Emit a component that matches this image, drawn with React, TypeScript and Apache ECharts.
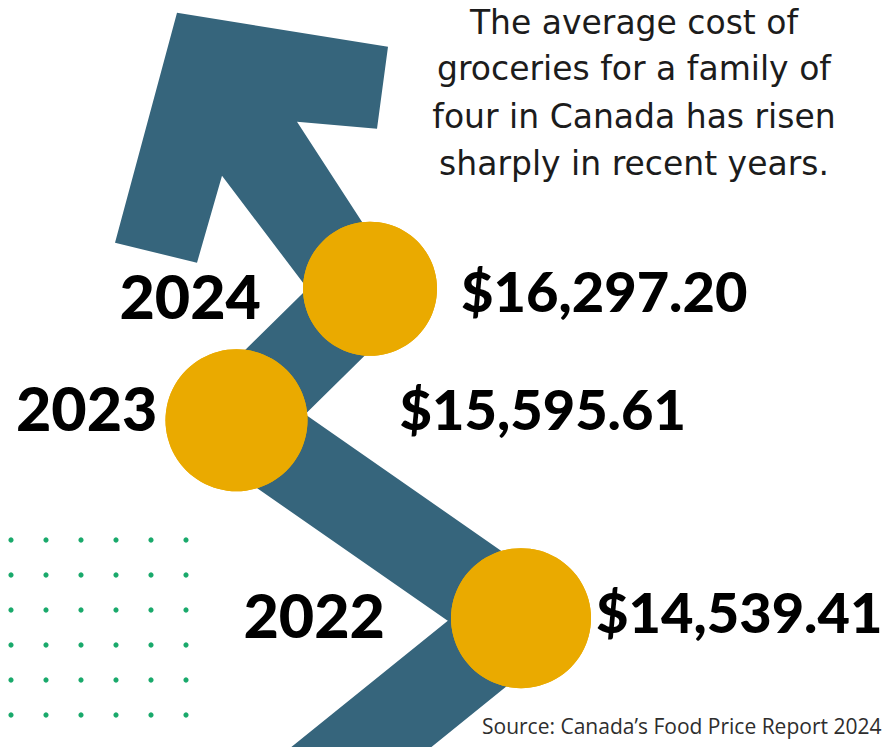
import React, { useEffect, useRef } from "react";
import * as echarts from "echarts";

// ---- data ----
const years = ["2022", "2023", "2024"];
const costs = [14539.41, 15595.61, 16297.2];
const headline = [
  "The average cost of",
  "groceries for a family of",
  "four in Canada has risen",
  "sharply in recent years.",
];
const sourceText = "Source: Canada\u2019s Food Price Report 2024";

// ---- layout (positions / sizes, not data) ----
const X_POS = [521, 236.5, 370];
const SIZES = [140, 142, 134];
const VALUE_DIST = [5, 92, 24];
const VALUE_DY = [-7, -12, 2];
const YEAR_DIST = [66, 8, 42];
const YEAR_DY = [-4, -13, 7];
const Y_MIN = 13852;
const Y_MAX = 17838;
// arrow head outline relative to the 2024 point
const HEAD: number[][] = [
  [-193, -276],
  [18, -242],
  [7, -160],
  [-73, -167],
  [14, -33],
  [-45, 23],
  [-148, -113],
  [-173, -26],
  [-255, -46],
];
const TAIL_DIR = [-0.778, 0.628];

const BLUE = "#36657C";
const GOLD = "#EAAA00";
const GREEN = "#19A96B";
const NUM_FONT = "Lato";

function fmtMoney(v: number): string {
  const [i, d] = v.toFixed(2).split(".");
  return "$" + i.replace(/\B(?=(\d{3})+(?!\d))/g, ",") + "." + d;
}

export default function App() {
  const ref = useRef<HTMLDivElement>(null);
  useEffect(() => {
    document.body.style.margin = "0";
    const chart = echarts.init(ref.current!, null, { renderer: "svg" });
    const numLabel = {
      color: "#000000",
      fontFamily: NUM_FONT,
      fontWeight: 900,
    };
    chart.setOption({
      animation: false,
      backgroundColor: "#ffffff",
      grid: { left: 0, right: 0, top: 0, bottom: 0, containLabel: false },
      xAxis: { type: "value", min: 0, max: 884, show: false },
      yAxis: { type: "value", min: Y_MIN, max: Y_MAX, show: false },
      series: [
        {
          type: "scatter",
          z: 5,
          symbol: "circle",
          itemStyle: { color: GOLD, opacity: 1 },
          emphasis: { disabled: true },
          data: costs.map((c, i) => ({
            value: [X_POS[i], c],
            symbolSize: SIZES[i],
            label: {
              show: true,
              position: "right",
              distance: VALUE_DIST[i],
              offset: [0, VALUE_DY[i]],
              formatter: fmtMoney(c),
              fontSize: 56,
              ...numLabel,
            },
          })),
        },
        {
          type: "scatter",
          z: 4,
          symbol: "circle",
          itemStyle: { color: GOLD, opacity: 1 },
          emphasis: { disabled: true },
          data: costs.map((c, i) => ({
            value: [X_POS[i], c],
            symbolSize: SIZES[i],
            label: {
              show: true,
              position: "left",
              distance: YEAR_DIST[i],
              offset: [0, YEAR_DY[i]],
              formatter: years[i],
              fontSize: 61,
              ...numLabel,
            },
          })),
        },
      ],
    });

    const px = costs.map(
      (c, i) => chart.convertToPixel({ gridIndex: 0 }, [X_POS[i], c]) as number[]
    );
    const p22 = px[0];
    const p24 = px[2];
    const tail = [p22[0] + TAIL_DIR[0] * 320, p22[1] + TAIL_DIR[1] * 320];

    const elements: any[] = [];
    for (let r = 0; r < 7; r++) {
      for (let c = 0; c < 6; c++) {
        elements.push({
          type: "circle",
          z: 1,
          silent: true,
          shape: { cx: 11 + c * 35, cy: 540 + r * 35, r: 2.6 },
          style: { fill: GREEN },
        });
      }
    }
    elements.push({
      type: "polyline",
      z: 1,
      silent: true,
      shape: { points: [tail, px[0], px[1], px[2]] },
      style: { stroke: BLUE, lineWidth: 88, lineJoin: "round", lineCap: "butt", fill: null },
    });
    elements.push({
      type: "polygon",
      z: 1,
      silent: true,
      shape: { points: HEAD.map(([dx, dy]) => [p24[0] + dx, p24[1] + dy]) },
      style: { fill: BLUE },
    });
    const lineY = [22, 68.5, 116, 163.5];
    headline.forEach((t, i) => {
      elements.push({
        type: "text",
        z: 10,
        x: 634,
        y: lineY[i],
        style: {
          text: t,
          fill: "#1c1c1c",
          font: "400 33px 'DejaVu Sans'",
          textAlign: "center",
          textVerticalAlign: "middle",
        },
      });
    });
    elements.push({
      type: "text",
      z: 10,
      x: 482,
      y: 725.5,
      style: {
        text: sourceText,
        fill: "#2e2e2e",
        font: "400 21px 'Open Sans'",
        textAlign: "left",
        textVerticalAlign: "middle",
      },
    });
    chart.setOption({ graphic: { elements } });
    return () => chart.dispose();
  }, []);
  return <div ref={ref} style={{ width: 884, height: 747 }} />;
}
